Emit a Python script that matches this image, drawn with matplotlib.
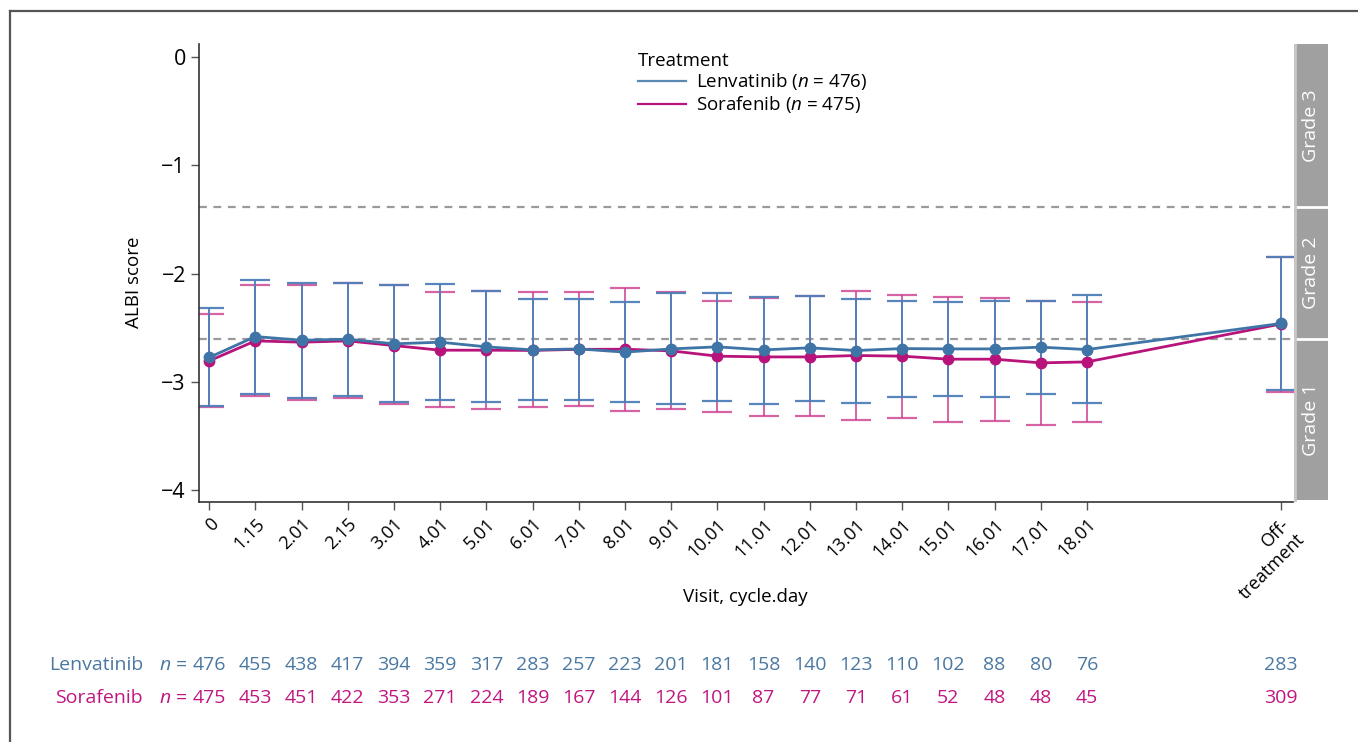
import matplotlib
matplotlib.use("Agg")
import matplotlib.pyplot as plt
from matplotlib.lines import Line2D
import matplotlib.transforms as mtransforms

plt.rcParams["font.family"] = ["Open Sans", "DejaVu Sans"]
plt.rcParams["mathtext.fontset"] = "custom"
plt.rcParams["mathtext.rm"] = "Open Sans"
plt.rcParams["mathtext.it"] = "Open Sans:italic"

# visits (cycle.day) and mean ALBI score with +/- SD bounds
visits = ["0", "1.15", "2.01", "2.15", "3.01", "4.01", "5.01", "6.01", "7.01", "8.01",
          "9.01", "10.01", "11.01", "12.01", "13.01", "14.01", "15.01", "16.01", "17.01",
          "18.01", "Off-\ntreatment"]
visit_pos = list(range(20)) + [23.2]

lenv_mean = [-2.775, -2.582, -2.616, -2.606, -2.649, -2.634, -2.677, -2.705, -2.696, -2.726,
             -2.696, -2.677, -2.705, -2.686, -2.711, -2.693, -2.696, -2.696, -2.680, -2.702,
             -2.461]
lenv_hi = [-2.317, -2.061, -2.086, -2.083, -2.104, -2.098, -2.160, -2.234, -2.234, -2.267,
           -2.184, -2.178, -2.215, -2.209, -2.237, -2.255, -2.264, -2.255, -2.252, -2.200,
           -1.845]
lenv_lo = [-3.222, -3.115, -3.152, -3.127, -3.188, -3.170, -3.188, -3.167, -3.170, -3.186,
           -3.201, -3.176, -3.207, -3.173, -3.198, -3.142, -3.133, -3.142, -3.111, -3.195,
           -3.078]

sora_mean = [-2.807, -2.622, -2.634, -2.622, -2.665, -2.708, -2.708, -2.710, -2.700, -2.699,
             -2.714, -2.763, -2.770, -2.770, -2.757, -2.763, -2.791, -2.791, -2.825, -2.816,
             -2.466]
sora_hi = [-2.372, -2.107, -2.110, -2.086, -2.110, -2.169, -2.160, -2.175, -2.175, -2.138,
           -2.169, -2.249, -2.224, -2.209, -2.160, -2.200, -2.218, -2.224, -2.252, -2.261,
           -1.850]
sora_lo = [-3.230, -3.133, -3.164, -3.152, -3.204, -3.235, -3.253, -3.235, -3.220, -3.266,
           -3.250, -3.281, -3.312, -3.318, -3.355, -3.330, -3.367, -3.364, -3.395, -3.367,
           -3.096]

lenv_n = [476, 455, 438, 417, 394, 359, 317, 283, 257, 223, 201, 181, 158, 140, 123, 110,
          102, 88, 80, 76, 283]
sora_n = [475, 453, 451, 422, 353, 271, 224, 189, 167, 144, 126, 101, 87, 77, 71, 61, 52,
          48, 48, 45, 309]

grade_cuts = [-1.39, -2.60]
grade_labels = ["Grade 3", "Grade 2", "Grade 1"]

LENV = "#3f74a6"
LENV_ERR = "#4f7fb8"
SORA = "#b8137a"
SORA_ERR = "#cc3d8f"
LENV_TXT = "#4a78a2"
SORA_TXT = "#c0167f"

fig = plt.figure(figsize=(13.58, 7.42), dpi=100)
W, H = 1358, 742
ax = fig.add_axes([199 / W, 1 - 502 / H, (1293 - 199) / W, (502 - 44) / H])
ylim = (-4.11, 0.12)
xlim = (-0.22, 23.46)

for y in grade_cuts:
    ax.axhline(y, color="#9a9a9a", lw=1.6, ls=(0, (3.5, 3)), zorder=1)

series = [
    (sora_mean, sora_lo, sora_hi, SORA, SORA_ERR, 0.8, "Sorafenib (" + r"$n$" + " = 475)"),
    (lenv_mean, lenv_lo, lenv_hi, LENV, LENV_ERR, 0.95, "Lenvatinib (" + r"$n$" + " = 476)"),
]
for mean, lo, hi, col, ecol, ealpha, lab in series:
    err = [[m - l for m, l in zip(mean, lo)], [h - m for m, h in zip(mean, hi)]]
    ax.errorbar(visit_pos, mean, yerr=err, fmt="none", ecolor=ecol, elinewidth=1.4,
                capsize=11, capthick=1.6, alpha=ealpha, zorder=2)
for mean, lo, hi, col, ecol, ealpha, lab in series:
    ax.plot(visit_pos, mean, color=col, lw=2.0, marker="o", ms=7.5, label=lab, zorder=3)

ax.set_xlim(*xlim)
ax.set_ylim(*ylim)
ax.set_yticks([0, -1, -2, -3, -4])
ax.set_yticklabels(["0", "\u22121", "\u22122", "\u22123", "\u22124"])
ax.set_xticks(visit_pos)
ax.set_xticklabels(visits, rotation=45, ha="right", rotation_mode="anchor", fontsize=13)
ax.tick_params(axis="y", labelsize=15.5, length=6, width=1, color="#555555")
ax.tick_params(axis="x", length=6, width=1, color="#555555")
for side in ("top", "right"):
    ax.spines[side].set_visible(False)
for side in ("left", "bottom"):
    ax.spines[side].set_color("#333333")
    ax.spines[side].set_linewidth(1.2)
ax.set_ylabel("ALBI score", fontsize=13.5)
ax.yaxis.set_label_coords(-(199 - 143) / (1293 - 199), 0.48)
ax.set_xlabel("Visit, cycle.day", fontsize=13.5)
ax.xaxis.set_label_coords((745 - 199) / (1293 - 199), -(588 - 502) / (502 - 44))

handles = [Line2D([0], [0], color=LENV, lw=1.6, alpha=0.85),
           Line2D([0], [0], color=SORA, lw=1.6)]
leg = ax.legend(handles, [series[1][6], series[0][6]], title="Treatment",
                loc="upper left", bbox_to_anchor=((630 - 199) / (1293 - 199), 1.0),
                frameon=False, fontsize=13.5, title_fontsize=13.5, handlelength=2.6,
                handletextpad=0.5, labelspacing=0.1, borderaxespad=0)
leg._legend_box.align = "left"

# grade band on the right edge
gx = fig.add_axes([1294 / W, 1 - 502 / H, 34 / W, (502 - 44) / H])
gx.set_ylim(*ylim)
gx.set_xlim(0, 1)
bounds = [ylim[1], grade_cuts[0], grade_cuts[1], -4.095]
for i, lab in enumerate(grade_labels):
    gx.axhspan(bounds[i + 1], bounds[i], color="#a0a0a0", lw=0)
    gx.text(0.5, (bounds[i] + bounds[i + 1]) / 2, lab, rotation=90, color="white",
            ha="center", va="center", fontsize=14)
for y in grade_cuts:
    gx.axhline(y, color="white", lw=2)
gx.axvline(0.02, color="#c8c8c8", lw=2)
gx.axis("off")

# numbers at risk under each visit
row_y = [1 - 665 / H, 1 - 698 / H]
trans = mtransforms.blended_transform_factory(ax.transData, fig.transFigure)
for ns, col, name, yy in [(lenv_n, LENV_TXT, "Lenvatinib", row_y[0]),
                          (sora_n, SORA_TXT, "Sorafenib", row_y[1])]:
    fig.text(143 / W, yy, name, color=col, ha="right", va="center", fontsize=14)
    ax.annotate(r"$n$ =", xy=(visit_pos[0], yy), xycoords=trans, xytext=(-15.5, 0),
                textcoords="offset points", ha="right", va="center", color=col,
                fontsize=14, annotation_clip=False)
    for x, n in zip(visit_pos, ns):
        ax.text(x, yy, str(n), transform=trans, color=col, ha="center", va="center",
                fontsize=14, clip_on=False)

# outer frame line, left and top
fig.add_artist(Line2D([10 / W, 10 / W], [0, 1 - 11 / H], transform=fig.transFigure,
                      color="#555555", lw=1.6))
fig.add_artist(Line2D([10 / W, 1], [1 - 11 / H, 1 - 11 / H], transform=fig.transFigure,
                      color="#555555", lw=1.6))

fig.savefig("out.png", dpi=100)
